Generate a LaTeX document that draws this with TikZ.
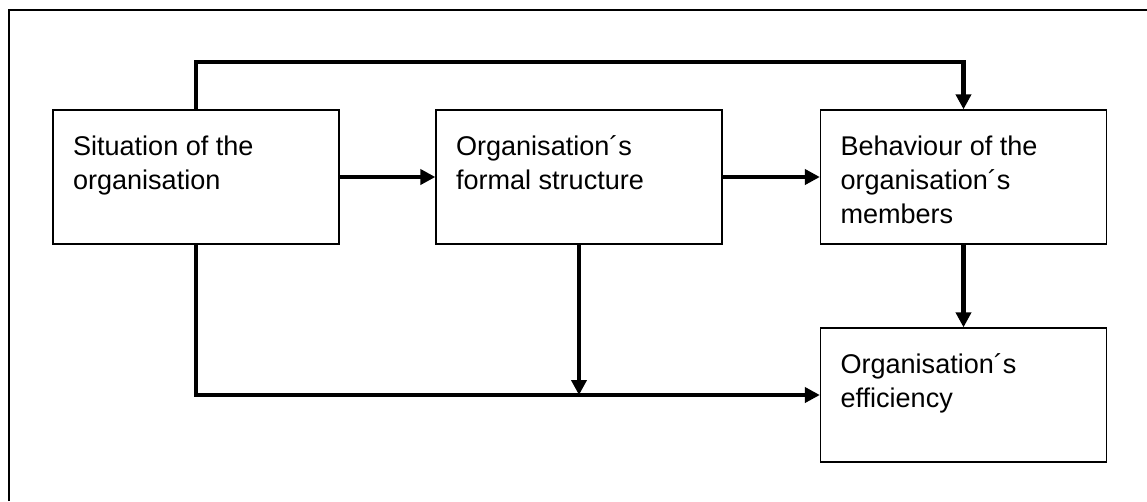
\documentclass[tikz,border=0pt]{standalone}
\usepackage{fontspec}
\setmainfont{Liberation Sans}
\usetikzlibrary{calc,arrows.meta}

\newcommand{\blocktext}[1]{\parbox[c][1.64cm][t]{4.92cm}{\fontsize{15.4}{19.2}\selectfont\raggedright #1}}

\tikzstyle{block} = [draw,line width=0.75pt,inner xsep=0.4cm,inner ysep=0.52cm]
\tikzstyle{link} = [line width=2.3pt,-{Triangle[length=0.3cm,width=0.3cm]}]

\begin{document}
\begin{tikzpicture}[x=0.02cm,y=-0.02cm]
	\useasboundingbox (0,0) rectangle (1147,501);
	\draw[line width=1.4pt] (9,501) -- (9,10) -- (1147,10);
	\node[block] (sit) at (196,177) {\blocktext{Situation of the organisation}};
	\node[block] (form) at (579,177) {\blocktext{Organisation´s formal structure}};
	\node[block] (beh) at (963.5,177) {\blocktext{Behaviour of the organisation´s members}};
	\node[block] (eff) at (963.5,395) {\blocktext{Organisation´s efficiency}};
	\draw[link] (sit.east) -- (form.west);
	\draw[link] (form.east) -- (beh.west);
	\draw[link] (beh.south) -- (eff.north);
	\draw[link] (sit.north) -- ++(0,-47) -| (beh.north);
	\draw[link] (sit.south) |- (eff.west);
	\draw[link] (form.south) -- (form.south |- eff.west);
\end{tikzpicture}
\end{document}
